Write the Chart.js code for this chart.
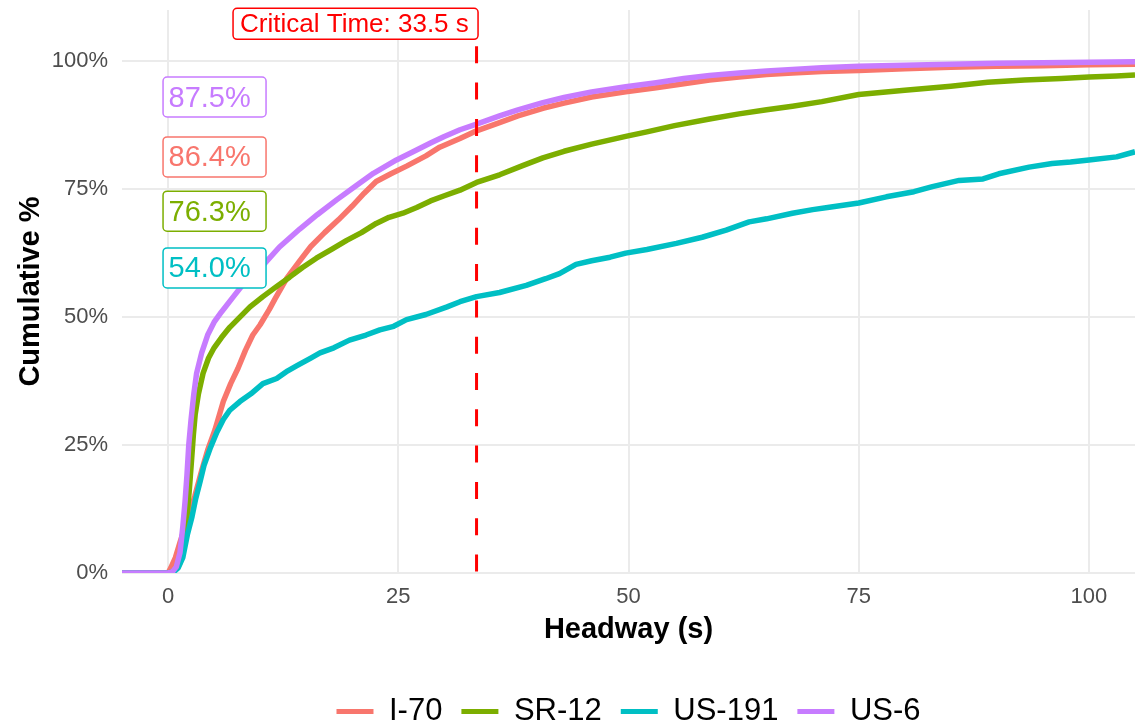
<!DOCTYPE html>
<html>
<head>
<meta charset="utf-8">
<script src="https://cdn.jsdelivr.net/npm/chart.js@4.4.1/dist/chart.umd.min.js"></script>
<style>
  html, body { margin: 0; padding: 0; background: #ffffff; }
  #wrap { width: 1138px; height: 725px; }
</style>
</head>
<body>
<div id="wrap"><canvas id="c" width="1138" height="725"></canvas></div>
<script>
// ---------------- DATA ----------------
const seriesNames = ['I-70', 'SR-12', 'US-191', 'US-6'];
const seriesColors = ['#F8766D', '#7CAE00', '#00BFC4', '#C77CFF'];

const I70_headway = [-6,0,0.3,0.8,1.3,1.85,2.4,2.9,3.65,4.3,5.1,6.0,6.8,7.6,8.4,9.2,10.0,11.0,11.6,12.9,14.3,15.5,17.0,18.5,20,21.3,22.6,24.2,25.9,28,29.5,31.7,33.5,36,38,40.7,43,46,49.7,53,56,58.8,62,65,67.8,71,75,80,85,90,95,100,105,110];
const I70_cum     = [0,0,0.01,0.03,0.06,0.09,0.12,0.15,0.20,0.24,0.28,0.335,0.37,0.40,0.435,0.465,0.485,0.515,0.535,0.576,0.61,0.638,0.665,0.69,0.717,0.742,0.765,0.78,0.795,0.815,0.832,0.849,0.864,0.88,0.893,0.908,0.918,0.93,0.94,0.948,0.956,0.963,0.969,0.974,0.977,0.98,0.982,0.985,0.988,0.99,0.991,0.993,0.994,0.995];

const SR12_headway = [-6,0,0.5,1.0,1.3,1.7,2.0,2.3,2.55,2.75,2.95,3.3,3.8,4.4,5.0,5.8,6.7,7.8,8.9,10.3,11.8,13.2,14.6,16.1,17.8,19.4,21,22.6,24,25.5,27,28.5,30,31.7,33.5,36,38.5,40.7,43,46,49.7,52,55,58.8,62,65,67.8,71,75,80,85,89,93,97,100,103,105,110];
const SR12_cum     = [0,0,0.003,0.01,0.02,0.06,0.10,0.16,0.22,0.27,0.31,0.35,0.39,0.42,0.44,0.46,0.48,0.50,0.52,0.54,0.56,0.578,0.597,0.615,0.633,0.65,0.665,0.683,0.695,0.703,0.714,0.727,0.737,0.748,0.763,0.778,0.796,0.811,0.824,0.838,0.853,0.862,0.874,0.887,0.897,0.905,0.912,0.921,0.935,0.943,0.951,0.959,0.963,0.966,0.969,0.971,0.973,0.976];

const US191_headway = [-6,0,0.6,1.1,1.6,2.1,2.6,3.0,3.5,3.9,4.6,5.3,6.0,6.7,7.8,9,10.3,11.8,13,14,15.5,16.5,18,19.7,21.5,23,24.5,25.9,28,30.3,31.7,33.5,36,38.9,41,42.5,44.3,46,48,49.7,52,55.2,58,60.6,63.1,65,67.8,70,72,75,78,81,83,85.9,88.5,90.2,93.5,96,98,100,103,105,110];
const US191_cum     = [0,0,0.002,0.01,0.03,0.075,0.11,0.145,0.18,0.21,0.245,0.275,0.30,0.318,0.335,0.35,0.37,0.38,0.395,0.405,0.42,0.43,0.44,0.455,0.465,0.475,0.482,0.495,0.505,0.52,0.53,0.54,0.548,0.562,0.575,0.585,0.603,0.61,0.617,0.625,0.632,0.644,0.656,0.67,0.686,0.692,0.703,0.71,0.715,0.723,0.735,0.745,0.755,0.767,0.77,0.78,0.793,0.8,0.803,0.807,0.813,0.823,0.83];

const US6_headway = [-6,0,0.5,0.9,1.3,1.6,1.85,2.05,2.25,2.5,2.8,3.1,3.65,4.3,5,5.8,7.1,8.5,10.5,12.1,14.3,16.2,18.3,20.3,22.3,24.8,26.5,28.5,30,31.7,33.5,36,38,40.7,43,46,49.7,53,56,58.8,62,65,67.8,71,75,80,85,90,95,100,105,110];
const US6_cum     = [0,0,0.003,0.012,0.04,0.09,0.14,0.19,0.25,0.30,0.35,0.39,0.43,0.465,0.49,0.51,0.54,0.572,0.605,0.637,0.672,0.70,0.729,0.755,0.781,0.807,0.822,0.84,0.853,0.866,0.877,0.893,0.905,0.919,0.929,0.94,0.95,0.958,0.966,0.972,0.977,0.981,0.984,0.987,0.99,0.992,0.994,0.996,0.997,0.998,0.999,1.0];

const criticalTime = 33.5;                      // seconds
const pctAtCritical = [86.4, 76.3, 54.0, 87.5]; // % per series at critical time
const pctLabelY = [0.813, 0.707, 0.596, 0.930]; // label anchor (cumulative share)
const criticalLabelY = 1.073;

const xTicks = [0, 25, 50, 75, 100];
const yTicks = [0, 0.25, 0.5, 0.75, 1.0];

// ---------------- BUILD ----------------
const headways = [I70_headway, SR12_headway, US191_headway, US6_headway];
const cums = [I70_cum, SR12_cum, US191_cum, US6_cum];

const FONT = "'Liberation Sans', Arial, Helvetica, sans-serif";
Chart.defaults.font.family = FONT;

const datasets = seriesNames.map((name, i) => ({
  label: name,
  data: headways[i].map((h, k) => ({ x: h, y: cums[i][k] })),
  borderColor: seriesColors[i],
  backgroundColor: seriesColors[i],
  borderWidth: 5.5,
  pointRadius: 0,
  pointHoverRadius: 0,
  tension: 0,
  fill: false,
  borderJoinStyle: 'round',
  order: seriesNames.length - 1 - i
}));

function roundRectPath(ctx, x, y, w, h, r) {
  ctx.beginPath();
  ctx.moveTo(x + r, y);
  ctx.lineTo(x + w - r, y);
  ctx.arcTo(x + w, y, x + w, y + r, r);
  ctx.lineTo(x + w, y + h - r);
  ctx.arcTo(x + w, y + h, x + w - r, y + h, r);
  ctx.lineTo(x + r, y + h);
  ctx.arcTo(x, y + h, x, y + h - r, r);
  ctx.lineTo(x, y + r);
  ctx.arcTo(x, y, x + r, y, r);
  ctx.closePath();
}

const annotations = {
  id: 'annotations',
  afterDatasetsDraw(chart) {
    const { ctx, chartArea, scales } = chart;
    const xs = scales.x, ys = scales.y;
    ctx.save();
    // critical time dashed line
    const xc = xs.getPixelForValue(criticalTime);
    ctx.strokeStyle = '#FF0000';
    ctx.lineWidth = 3;
    ctx.lineCap = 'butt';
    ctx.setLineDash([17, 19.3]);
    ctx.beginPath();
    ctx.moveTo(xc, chartArea.top);
    ctx.lineTo(xc, chartArea.bottom);
    ctx.stroke();
    ctx.setLineDash([]);

    // critical time label (right edge at the line)
    const cText = 'Critical Time: ' + criticalTime + ' s';
    ctx.font = '26px ' + FONT;
    const cy = ys.getPixelForValue(criticalLabelY);
    const cw = 245, ch = 31;
    const cx0 = xc + 1.5 - cw;
    roundRectPath(ctx, cx0, cy - ch / 2, cw, ch, 4);
    ctx.fillStyle = '#FFFFFF';
    ctx.fill();
    ctx.lineWidth = 1.5;
    ctx.strokeStyle = '#FF0000';
    ctx.stroke();
    ctx.fillStyle = '#FF0000';
    ctx.textAlign = 'left';
    ctx.textBaseline = 'middle';
    ctx.fillText(cText, cx0 + 7, cy + 1.5);

    // percentage labels
    ctx.font = '29px ' + FONT;
    const x0 = xs.getPixelForValue(0);
    pctAtCritical.forEach((v, i) => {
      const py = ys.getPixelForValue(pctLabelY[i]);
      const bw = 103, bh = 40;
      roundRectPath(ctx, x0 - 5, py - bh / 2, bw, bh, 4);
      ctx.fillStyle = '#FFFFFF';
      ctx.fill();
      ctx.lineWidth = 1.5;
      ctx.strokeStyle = seriesColors[i];
      ctx.stroke();
      ctx.fillStyle = seriesColors[i];
      ctx.textAlign = 'left';
      ctx.textBaseline = 'middle';
      ctx.fillText(v.toFixed(1) + '%', x0 + 0.5, py + 1.5);
    });
    ctx.restore();
  }
};

new Chart(document.getElementById('c'), {
  type: 'line',
  data: { datasets },
  options: {
    responsive: false,
    devicePixelRatio: 1,
    animation: false,
    events: [],
    layout: { padding: { top: 10, right: 3, bottom: -12, left: 0 } },
    scales: {
      x: {
        type: 'linear',
        min: -5, max: 105,
        afterBuildTicks: (s) => { s.ticks = xTicks.map(v => ({ value: v })); },
        afterFit: (s) => { s.height = 104; s.paddingLeft = 0; s.paddingRight = 0; },
        grid: { color: '#EBEBEB', lineWidth: 2, drawTicks: false },
        border: { display: false },
        ticks: { color: '#4D4D4D', font: { size: 22 }, padding: 11, maxRotation: 0, autoSkip: false },
        title: { display: true, text: 'Headway (s)', color: '#000000', font: { size: 29, weight: 'bold' }, padding: { top: 0, bottom: 30 } }
      },
      y: {
        type: 'linear',
        min: 0, max: 1.1,
        afterBuildTicks: (s) => { s.ticks = yTicks.map(v => ({ value: v })); },
        afterFit: (s) => { s.width = 122; s.paddingTop = 0; s.paddingBottom = 0; },
        grid: { color: '#EBEBEB', lineWidth: 2, drawTicks: false },
        border: { display: false },
        ticks: { color: '#4D4D4D', font: { size: 22 }, padding: 14, callback: (v) => Math.round(v * 100) + '%' },
        title: { display: true, text: 'Cumulative %', color: '#000000', font: { size: 29, weight: 'bold' }, padding: { top: 14, bottom: 0 } }
      }
    },
    plugins: {
      legend: {
        position: 'bottom',
        fullSize: false,
        labels: {
          color: '#000000',
          font: { size: 31 },
          boxWidth: 37,
          boxHeight: 5,
          padding: 19,
          generateLabels: (chart) => {
            const items = Chart.defaults.plugins.legend.labels.generateLabels(chart);
            items.sort((a, b) => a.datasetIndex - b.datasetIndex);
            items.forEach(it => { it.lineWidth = 0; it.fillStyle = seriesColors[it.datasetIndex]; });
            return items;
          }
        }
      },
      tooltip: { enabled: false }
    }
  },
  plugins: [annotations]
});
</script>
</body>
</html>
